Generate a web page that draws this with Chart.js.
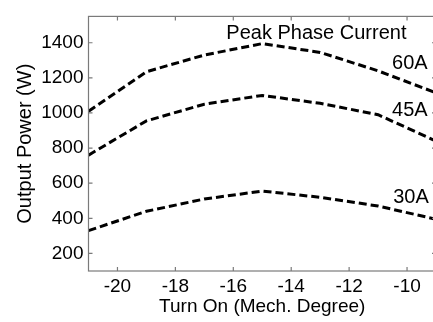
<!DOCTYPE html>
<html>
<head>
<meta charset="utf-8">
<script src="https://cdn.jsdelivr.net/npm/chart.js@4/dist/chart.umd.min.js"></script>
<style>
  html, body { margin: 0; padding: 0; background: #fff; overflow: hidden; }
  #wrap { width: 433px; height: 322px; overflow: hidden; }
</style>
</head>
<body>
<div id="wrap"><canvas id="myChart" width="436" height="322"></canvas></div>
<script>
// turn-on angle (mech. degree)
var turnOn = [-21, -19, -17, -15, -13, -11, -9];
// output power (W) per peak phase current
var power60 = [1010, 1235, 1330, 1395, 1345, 1240, 1115];
var power45 = [760, 955, 1050, 1100, 1055, 990, 840];
var power30 = [330, 440, 510, 555, 520, 470, 395];
var currents = ['60A', '45A', '30A'];
var legendTitle = 'Peak Phase Current';
var xTicks = [-20, -18, -16, -14, -12, -10];
var yTicks = [200, 400, 600, 800, 1000, 1200, 1400];

var fontName = '"Liberation Sans", Arial, sans-serif';

function toPoints(vals) {
    return vals.map(function (v, i) { return {x: turnOn[i], y: v}; });
}

// box, inward ticks and text labels
var decor = {
    id: 'decor',
    afterDatasetsDraw: function (chart) {
        var ctx = chart.ctx, a = chart.chartArea;
        var x = chart.scales.x, y = chart.scales.y;
        ctx.save();
        ctx.strokeStyle = '#7a7a7a';
        ctx.lineWidth = 1.2;
        ctx.strokeRect(a.left, a.top, a.right - a.left, a.bottom - a.top);
        ctx.beginPath();
        x.ticks.forEach(function (t) {
            var px = x.getPixelForValue(t.value);
            ctx.moveTo(px, a.bottom); ctx.lineTo(px, a.bottom - 4);
            ctx.moveTo(px, a.top); ctx.lineTo(px, a.top + 4);
        });
        y.ticks.forEach(function (t) {
            var py = y.getPixelForValue(t.value);
            ctx.moveTo(a.left, py); ctx.lineTo(a.left + 4, py);
            ctx.moveTo(a.right, py); ctx.lineTo(a.right - 4, py);
        });
        ctx.stroke();

        ctx.fillStyle = '#000';
        ctx.font = '20px ' + fontName;
        ctx.textBaseline = 'alphabetic';
        ctx.textAlign = 'center';
        ctx.fillText(legendTitle, x.getPixelForValue(-13.13), y.getPixelForValue(1424));
        ctx.textAlign = 'right';
        var spots = [[-9.29, 1253], [-9.29, 984], [-9.25, 490]];
        currents.forEach(function (c, i) {
            ctx.fillText(c, x.getPixelForValue(spots[i][0]), y.getPixelForValue(spots[i][1]));
        });
        ctx.restore();
    }
};

function lineSet(label, vals) {
    return {
        label: label,
        data: toPoints(vals),
        borderColor: '#000',
        borderWidth: 3,
        borderDash: [8, 4],
        pointRadius: 0,
        fill: false,
        tension: 0
    };
}

function plain(v) { return String(v); }

var chart = new Chart(document.getElementById('myChart').getContext('2d'), {
    type: 'line',
    data: {
        datasets: [
            lineSet(currents[0], power60),
            lineSet(currents[1], power45),
            lineSet(currents[2], power30)
        ]
    },
    options: {
        responsive: false,
        animation: false,
        layout: { padding: { top: 7, right: 0, left: 0, bottom: 0 } },
        plugins: { legend: { display: false }, tooltip: { enabled: false } },
        scales: {
            x: {
                type: 'linear',
                min: -21,
                max: -9,
                grid: { display: false, drawTicks: false },
                border: { display: false },
                afterBuildTicks: function (s) { s.ticks = xTicks.map(function (v) { return {value: v}; }); },
                afterFit: function (s) { s.height = 51; },
                ticks: { color: '#000', padding: 4, maxRotation: 0, callback: plain,
                         font: { family: fontName, size: 19 } },
                title: { display: true, text: 'Turn On (Mech. Degree)', color: '#000',
                         padding: { top: 0, bottom: 4 }, font: { family: fontName, size: 19 } }
            },
            y: {
                min: 100,
                max: 1550,
                grid: { display: false, drawTicks: false },
                border: { display: false },
                afterBuildTicks: function (s) { s.ticks = yTicks.map(function (v) { return {value: v}; }); },
                afterFit: function (s) { s.width = 88.5; },
                ticks: { color: '#000', padding: 5, callback: plain,
                         font: { family: fontName, size: 19 } },
                title: { display: true, text: 'Output Power (W)', color: '#000',
                         padding: { top: 13, bottom: 0 }, font: { family: fontName, size: 20 } }
            }
        }
    },
    plugins: [decor]
});
</script>
</body>
</html>
